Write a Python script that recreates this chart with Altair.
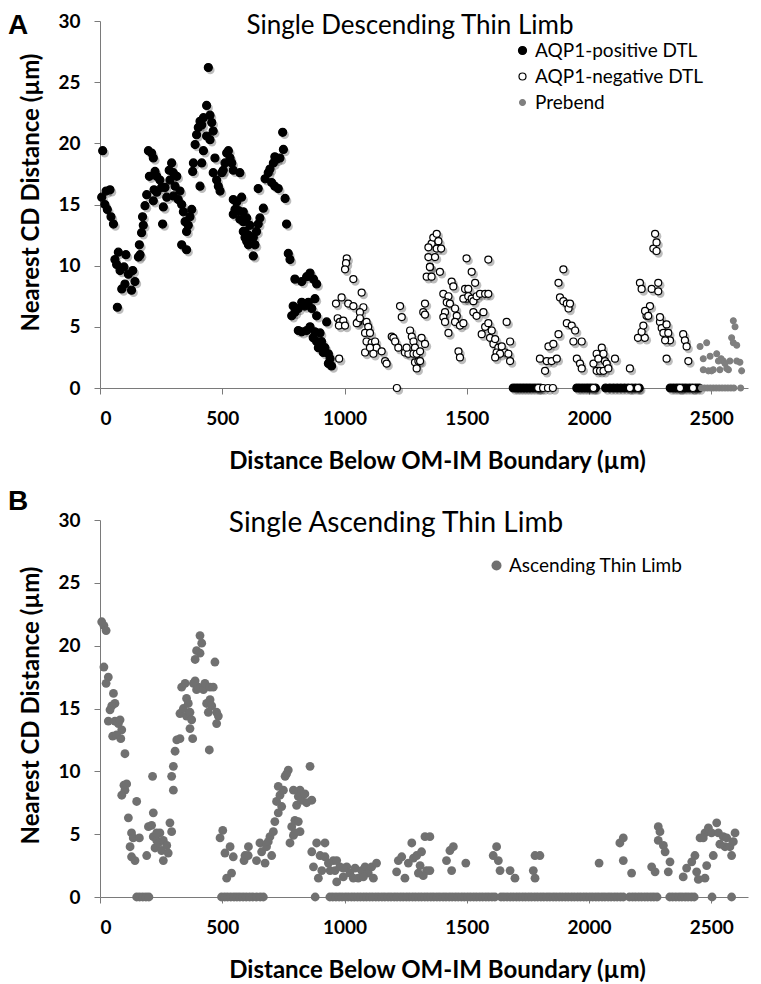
import altair as alt
import pandas as pd

# ---------------- Panel A data (distance µm, nearest CD distance µm) ----------------
A_POSITIVE = [
    (11, 19.4), (7, 15.6), (25, 16.1), (41, 16.2), (20, 15.0), (30, 14.6), (45, 14.0), (55, 13.4),
    (61, 10.5), (75, 11.1), (68, 10.1), (82, 9.6), (71, 6.6), (106, 10.9), (98, 9.9), (89, 8.1),
    (102, 8.5), (116, 9.3), (129, 8.0), (143, 8.7), (134, 9.6), (157, 10.7), (164, 10.9), (161, 11.7),
    (170, 12.7), (177, 13.3), (174, 14.0), (184, 14.9), (191, 15.8), (202, 17.3), (198, 19.4), (211, 19.2),
    (218, 18.8), (225, 17.7), (232, 17.3), (245, 17.0), (221, 16.2), (232, 16.0), (252, 16.4), (218, 15.3),
    (259, 14.8), (256, 13.4), (273, 15.6), (266, 16.4), (286, 17.0), (293, 18.4), (283, 17.8), (300, 17.6),
    (314, 17.3), (307, 16.5), (327, 16.1), (300, 15.7), (320, 15.4), (334, 15.0), (341, 14.4), (348, 13.6),
    (361, 13.3), (354, 12.8), (334, 11.7), (354, 11.3), (368, 14.0), (375, 14.6), (382, 18.4), (379, 17.7),
    (389, 19.9), (395, 20.7), (402, 21.3), (409, 21.8), (416, 21.5), (423, 22.1), (436, 23.1), (443, 26.2),
    (450, 22.3), (457, 21.7), (463, 21.0), (450, 20.3), (423, 19.4), (416, 18.4), (409, 16.5), (436, 20.6),
    (470, 18.8), (463, 17.6), (477, 17.0), (484, 16.5), (491, 16.1), (511, 18.4), (518, 19.2), (525, 19.4),
    (532, 18.8), (539, 18.4), (545, 17.8), (504, 17.8), (498, 17.6), (572, 17.6), (545, 15.4), (559, 15.2),
    (552, 14.6), (566, 14.5), (545, 14.2), (572, 13.8), (586, 13.6), (593, 12.8), (593, 12.3), (607, 12.5),
    (607, 11.7), (579, 15.6), (586, 14.4), (600, 13.9), (613, 13.3), (586, 12.8), (606, 12.3), (627, 12.3),
    (640, 12.8), (647, 13.4), (668, 14.7), (654, 13.9), (634, 11.7), (627, 10.8), (600, 12.0), (647, 16.3),
    (675, 17.1), (688, 17.6), (695, 17.9), (709, 18.4), (715, 18.9), (722, 18.7), (736, 18.8), (750, 19.5),
    (747, 20.9), (702, 16.8), (715, 16.5), (729, 16.3), (757, 15.5), (763, 13.4), (770, 11.0), (777, 10.5),
    (797, 8.9), (825, 8.7), (845, 9.1), (859, 9.4), (873, 8.9), (886, 8.5), (790, 6.7), (797, 6.2),
    (811, 6.5), (825, 7.0), (838, 6.7), (852, 7.0), (866, 6.5), (879, 7.3), (886, 5.9), (784, 5.9),
    (811, 4.7), (825, 4.6), (845, 4.7), (859, 5.0), (879, 4.6), (900, 4.5), (906, 3.8), (920, 3.3),
    (913, 2.9), (934, 2.8), (941, 2.4), (934, 2.0), (947, 1.8), (893, 3.3), (872, 4.1), (886, 3.8),
    (927, 5.4),
]
A_POSITIVE_ZERO_X = [1690, 1702, 1714, 1726, 1738, 1750, 1762, 1775, 1788, 1800,
                     1950, 1962, 1975, 1988, 2000, 2012, 2026,
                     2068, 2085, 2100, 2115, 2130, 2145, 2160, 2175, 2190, 2205,
                     2332, 2345, 2358, 2370, 2383, 2396, 2410, 2423, 2437, 2450]

A_NEGATIVE = [
    (978, 2.4), (965, 6.9), (988, 7.4), (1015, 6.9), (1036, 6.7), (1070, 7.8), (1077, 6.6), (1063, 6.2),
    (1009, 10.6), (1006, 10.2), (1002, 9.7), (1036, 8.9), (972, 5.7), (981, 5.4), (995, 5.5), (977, 5.1),
    (1002, 5.1), (1056, 5.4), (1050, 5.3), (1063, 5.7), (1090, 5.4), (1097, 5.0), (1084, 4.5), (1104, 4.5),
    (1090, 3.8), (1111, 3.7), (1125, 3.8), (1131, 3.3), (1084, 2.9), (1104, 3.3), (1118, 2.8), (1152, 3.0),
    (1166, 2.2), (1172, 2.0), (1193, 4.2), (1200, 4.1), (1207, 3.8), (1220, 3.3), (1227, 6.7), (1234, 5.8),
    (1247, 2.9), (1261, 2.8), (1254, 3.3), (1268, 4.7), (1275, 4.2), (1282, 3.8), (1288, 3.3), (1282, 2.8),
    (1295, 2.8), (1288, 2.1), (1302, 2.2), (1309, 3.0), (1315, 4.1), (1322, 6.2), (1329, 6.9), (1329, 6.0),
    (1336, 9.1), (1350, 9.9), (1343, 10.7), (1356, 11.8), (1363, 12.3), (1377, 12.6), (1377, 11.4), (1370, 10.7),
    (1343, 11.5), (1329, 3.6), (1309, 2.2), (1295, 1.6), (1384, 12.0), (1395, 11.4), (1349, 9.9), (1390, 9.5),
    (1356, 9.1), (1404, 7.7), (1425, 7.5), (1438, 8.7), (1445, 8.3), (1418, 7.0), (1431, 6.9), (1411, 6.2),
    (1404, 5.8), (1411, 5.4), (1425, 4.5), (1452, 6.5), (1459, 5.9), (1452, 5.4), (1472, 5.1), (1486, 5.3),
    (1493, 8.1), (1506, 8.1), (1499, 7.3), (1486, 7.3), (1506, 7.5), (1520, 7.3), (1527, 7.1), (1540, 7.5),
    (1554, 7.7), (1575, 7.7), (1588, 7.7), (1499, 10.6), (1520, 9.5), (1534, 8.6), (1588, 10.5), (1527, 6.2),
    (1540, 5.9), (1568, 6.2), (1561, 4.4), (1575, 5.0), (1588, 5.3), (1602, 4.7), (1595, 4.1), (1609, 3.6),
    (1616, 4.0), (1629, 3.3), (1622, 2.9), (1643, 3.4), (1657, 2.9), (1670, 2.8), (1677, 2.2), (1663, 5.4),
    (1677, 3.8), (1636, 2.8), (1616, 2.5), (1466, 3.0), (1472, 2.5),
    (1799, 2.4), (1820, 1.4), (1827, 2.2), (1847, 2.2), (1868, 2.4), (1834, 3.4), (1854, 3.6), (1875, 4.4),
    (1875, 8.6), (1895, 9.7), (1881, 7.4), (1895, 7.1), (1909, 6.9), (1916, 6.5), (1922, 6.9), (1909, 5.3),
    (1929, 5.1), (1943, 4.7), (1936, 3.8), (1970, 3.8), (1950, 2.4), (1963, 2.0), (1970, 1.6), (2018, 2.0),
    (2031, 2.8), (2038, 2.4), (2052, 3.3), (2059, 2.8), (2065, 2.2), (2072, 2.0), (2031, 1.4), (2045, 1.4),
    (2059, 1.4), (2079, 1.6), (2106, 2.4), (2167, 1.6),
    (2200, 4.1), (2228, 4.1), (2215, 4.6), (2222, 5.1), (2235, 5.9), (2249, 6.7), (2208, 8.6), (2215, 8.1),
    (2256, 8.1), (2270, 12.6), (2263, 11.4), (2276, 11.9), (2283, 8.6), (2229, 6.3), (2242, 5.9), (2290, 5.4),
    (2297, 4.9), (2317, 5.2), (2304, 4.5), (2324, 4.5), (2331, 3.9), (2311, 3.9), (2290, 5.8), (2317, 2.4),
    (2385, 4.4), (2392, 3.9), (2399, 3.4), (2406, 2.2), (2276, 11.2), (2283, 7.9),
]
A_NEGATIVE_ZERO_X = [1214, 1792, 1812, 1832, 1852, 2018, 2167, 2200, 2372, 2425]

A_PREBEND = [
    (2454, 3.4), (2481, 3.7), (2467, 2.4), (2467, 1.5), (2488, 1.4), (2508, 1.5), (2522, 2.8), (2529, 2.2),
    (2549, 2.2), (2563, 1.6), (2576, 2.2), (2590, 5.5), (2597, 5.0), (2583, 4.1), (2590, 3.7), (2570, 1.5),
    (2617, 2.1), (2624, 1.4), (2535, 1.5), (2501, 1.4), (2495, 2.6), (2540, 2.4), (2556, 2.0), (2604, 3.5),
    (2604, 2.2),
]
A_PREBEND_ZERO_X = [2460, 2472, 2484, 2496, 2508, 2520, 2532, 2544, 2556, 2568, 2580, 2592, 2620]

# ---------------- Panel B data ----------------
B_ASCENDING = [
    (7, 21.9), (16, 21.6), (25, 21.2), (16, 18.3), (34, 17.5), (25, 17.0), (55, 16.2), (61, 15.4),
    (48, 15.2), (41, 14.9), (34, 14.0), (61, 14.0), (75, 13.8), (82, 14.1), (89, 13.3), (52, 12.8),
    (68, 12.9), (85, 12.6), (102, 11.4), (98, 8.9), (109, 9.0), (102, 8.5), (89, 8.1), (116, 6.3),
    (129, 5.1), (136, 4.7), (161, 4.7), (150, 7.6), (123, 4.0), (129, 3.2), (143, 2.9), (191, 3.3),
    (198, 5.6), (211, 5.7), (218, 6.7), (215, 9.6), (218, 4.8), (232, 4.5), (225, 3.9), (239, 4.3),
    (245, 5.1), (232, 5.1), (259, 4.5), (252, 3.7), (259, 2.9), (273, 4.1), (279, 3.5), (286, 5.9),
    (293, 5.2), (300, 8.5), (293, 9.6), (300, 10.4), (307, 11.6), (314, 12.5), (327, 12.6), (327, 14.6),
    (341, 15.0), (334, 16.7), (348, 17.0), (354, 15.8), (361, 15.4), (354, 14.4), (368, 14.7), (375, 14.1),
    (368, 13.4), (379, 12.6), (382, 17.0), (395, 16.5), (402, 16.7), (389, 17.2), (389, 18.9), (395, 19.6),
    (409, 20.8), (416, 20.2), (409, 19.4), (423, 16.5), (429, 17.0), (450, 16.7), (463, 16.7), (436, 15.4),
    (450, 15.7), (457, 15.2), (443, 14.7), (470, 18.7), (477, 14.7), (484, 14.4), (477, 13.8), (447, 11.7),
    (491, 4.7), (502, 5.3), (511, 3.5), (532, 4.0), (545, 3.2), (518, 1.5), (538, 1.9), (593, 3.3),
    (607, 4.0), (589, 2.9), (606, 3.3), (640, 2.9), (661, 3.6), (654, 4.3), (675, 2.7), (681, 4.0),
    (695, 4.8), (688, 4.4), (709, 5.2), (702, 3.3), (715, 6.0), (729, 6.7), (743, 7.2), (722, 7.6),
    (736, 8.1), (750, 8.5), (729, 8.8), (757, 9.6), (770, 10.1), (763, 9.8), (784, 5.6), (791, 4.9),
    (777, 4.3), (797, 6.1), (804, 7.3), (811, 8.0), (818, 8.5), (791, 8.5), (825, 7.7), (838, 8.2),
    (845, 7.5), (866, 7.7), (811, 6.0), (818, 5.2), (797, 5.1), (859, 10.4),
    (866, 3.6), (873, 2.4), (886, 4.3), (900, 3.3), (907, 2.1), (893, 1.5), (920, 4.3), (920, 3.2),
    (934, 2.7), (941, 2.1), (954, 2.9), (961, 2.1), (968, 1.2), (981, 2.4), (995, 1.6), (1009, 2.4),
    (1022, 1.9), (1043, 2.3), (1056, 1.5), (1070, 2.1), (1084, 2.4), (1097, 1.9), (1111, 2.4), (1131, 2.7),
    (1118, 1.5), (1077, 1.6), (1036, 1.5), (995, 2.3), (968, 2.9),
    (1213, 2.0), (1220, 2.9), (1234, 3.2), (1247, 1.5), (1261, 2.7), (1275, 4.3), (1282, 3.1), (1295, 3.3),
    (1309, 2.5), (1315, 3.6), (1329, 4.8), (1336, 2.1), (1322, 1.7), (1302, 1.9),
    (1349, 4.8), (1349, 2.1), (1417, 2.9), (1431, 3.7), (1445, 4.0), (1438, 2.1), (1496, 2.7), (1608, 3.3),
    (1622, 4.0), (1629, 2.9), (1636, 2.1), (1677, 2.1), (1697, 1.5), (1772, 2.1), (1779, 1.5), (1779, 3.3),
    (1799, 3.3),
    (2041, 2.7), (2126, 4.3), (2140, 4.7), (2140, 2.9), (2174, 1.9), (2256, 2.4), (2270, 2.0), (2283, 5.6),
    (2290, 5.2), (2283, 4.5), (2304, 4.1), (2311, 3.6), (2331, 2.8), (2324, 2.0), (2385, 1.6), (2399, 2.3),
    (2420, 2.8), (2433, 3.3), (2440, 2.0), (2447, 1.4), (2474, 1.5), (2481, 2.5), (2454, 4.7), (2474, 5.1),
    (2488, 5.5), (2501, 5.1), (2522, 5.9), (2529, 5.1), (2549, 4.8), (2556, 4.0), (2576, 4.0), (2590, 4.4),
    (2597, 5.1), (2583, 3.3), (2508, 3.3), (2535, 4.2), (2563, 4.7), (2467, 4.7),
]
B_ZERO_X = [150, 162, 175, 188, 200,
            497, 510, 522, 535, 548, 560, 572, 585, 598, 612, 625, 640, 655, 668,
            880,
            940, 952, 965, 978, 990, 1003, 1015, 1028, 1040, 1053, 1065, 1078, 1090, 1103, 1115,
            1128, 1140, 1153, 1165, 1178, 1190, 1203, 1215, 1228, 1240, 1253, 1265, 1278, 1290,
            1303, 1315, 1328, 1340, 1353, 1365, 1378, 1390, 1403, 1415, 1428, 1440, 1453, 1465,
            1478, 1490, 1503, 1515, 1528, 1540, 1553, 1565, 1578, 1590, 1603, 1615,
            1640, 1652, 1665, 1678, 1690, 1703, 1715, 1728, 1740, 1753, 1765, 1778, 1790, 1803,
            1815, 1828, 1840, 1853, 1865, 1878, 1890, 1903, 1915, 1928, 1940, 1953, 1965, 1978,
            1990, 2003, 2015, 2028, 2040, 2053, 2065, 2078, 2090, 2103, 2115, 2128, 2140,
            2165, 2178, 2190, 2203, 2215, 2228, 2240, 2253, 2265, 2278,
            2330, 2342, 2355, 2368, 2380, 2393, 2405, 2418, 2430,
            2503, 2583]

SERIES_A = ["AQP1-positive DTL", "AQP1-negative DTL", "Prebend"]
SERIES_B = ["Ascending Thin Limb"]
X_TICKS = [0, 500, 1000, 1500, 2000, 2500]
Y_TICKS = [0, 5, 10, 15, 20, 25, 30]


def rows(pairs, zeros, name):
    out = [{"x": x, "y": y, "series": name} for x, y in pairs]
    out += [{"x": x, "y": 0.0, "series": name} for x in zeros]
    return out


dfA = pd.DataFrame(
    rows(A_POSITIVE, A_POSITIVE_ZERO_X, SERIES_A[0])
    + rows(A_NEGATIVE, A_NEGATIVE_ZERO_X, SERIES_A[1])
    + rows(A_PREBEND, A_PREBEND_ZERO_X, SERIES_A[2])
)
dfA_shadow = dfA[dfA["series"] != SERIES_A[2]]
dfB = pd.DataFrame(rows(B_ASCENDING, B_ZERO_X, SERIES_B[0]))

FONT = "Lato"
AXIS_GREY = "#7a7a7a"
W = 648              # plot width
PH_A = 367           # panel A plot height (top kept clear of the page edge)
B_TOP = 499          # panel B plot top, measured from panel A plot top
PH_B = 377           # panel B plot height
TOTAL_H = B_TOP + PH_B

xscale = alt.Scale(domain=[0, 2650], nice=False, zero=False)
yscaleA = alt.Scale(domain=[0, 30], nice=False, zero=False, range=[PH_A, 0])
yscaleB = alt.Scale(domain=[0, 30], nice=False, zero=False, range=[TOTAL_H, B_TOP])


def x_axis(offset):
    return alt.Axis(values=X_TICKS, format="d", title="Distance Below OM-IM Boundary (µm)", grid=False,
                    orient="bottom", offset=offset,
                    titleX=337, titleY=80, titleAlign="center", titleBaseline="alphabetic",
                    labelPadding=15, tickSize=6)


def y_axis(title_y):
    return alt.Axis(values=Y_TICKS, title="Nearest CD Distance (µm)", grid=False, orient="left",
                    titleX=-69, titleY=title_y, titleAngle=270, titleAlign="center",
                    titleBaseline="middle", labelPadding=14, tickSize=6)


def legend(lx, ly):
    return alt.Legend(orient="none", legendX=lx, legendY=ly, title=None, labelFont=FONT,
                      labelFontSize=19, labelColor="black", symbolType="circle", labelLimit=400,
                      rowPadding=6, labelOffset=3, padding=0, symbolStrokeWidth=1.2)


def label_text(txt, x, y, size, font, weight):
    return alt.Chart(pd.DataFrame({"t": [txt]})).mark_text(
        font=font, fontSize=size, fontWeight=weight, align="center", baseline="alphabetic",
        color="black"
    ).encode(text="t:N", x=alt.value(x), y=alt.value(y))


# ---------------- Panel A ----------------
xA = alt.X("x:Q", scale=xscale, axis=x_axis(-(TOTAL_H - PH_A)))
yA = alt.Y("y:Q", scale=yscaleA, axis=y_axis(171))

shadowA = alt.Chart(dfA_shadow).mark_circle(
    color="#000000", opacity=0.26, size=72, xOffset=2, yOffset=2.5
).encode(x=xA, y=yA)

pointsA = alt.Chart(dfA).mark_point(filled=True, opacity=1, strokeWidth=1.2, shape="circle").encode(
    x=xA,
    y=yA,
    fill=alt.Fill("series:N", scale=alt.Scale(domain=SERIES_A, range=["#000000", "#ffffff", "#7f7f7f"]),
                  legend=legend(413, 20)),
    stroke=alt.Stroke("series:N", scale=alt.Scale(domain=SERIES_A, range=["#000000", "#000000", "#7f7f7f"]),
                      legend=legend(413, 20)),
    size=alt.Size("series:N", scale=alt.Scale(domain=SERIES_A, range=[64, 34, 64]),
                  legend=legend(413, 20)),
)

layerA = alt.layer(shadowA, pointsA)

# ---------------- Panel B ----------------
pointsB = alt.Chart(dfB).mark_point(filled=True, opacity=1, size=78, shape="circle").encode(
    x=alt.X("x:Q", scale=xscale, axis=x_axis(0)),
    y=alt.Y("y:Q", scale=yscaleB, axis=y_axis(B_TOP + 185)),
    fill=alt.Fill("series:N", scale=alt.Scale(domain=SERIES_B, range=["#707070"]),
                  legend=legend(387, B_TOP + 36)),
)

chart = alt.layer(
    layerA,
    pointsB,
    label_text("A", -82, 13, 28, "Liberation Sans", "bold"),
    label_text("Single Descending Thin Limb", 310, 13, 26, FONT, "normal"),
    label_text("B", -82, B_TOP - 10, 28, "Liberation Sans", "bold"),
    label_text("Single Ascending Thin Limb", 296, B_TOP + 12, 28, FONT, "normal"),
).resolve_scale(
    x="independent", y="independent", fill="independent", stroke="independent", size="independent"
).resolve_legend(
    fill="independent", stroke="independent", size="independent"
).properties(
    width=W, height=TOTAL_H,
    autosize=alt.AutoSizeParams(type="none"),
    padding={"left": 92, "top": 13, "right": 5, "bottom": 85},
).configure_view(
    stroke=None
).configure_axis(
    domainColor=AXIS_GREY, tickColor=AXIS_GREY, domainWidth=1, tickWidth=1,
    labelFont=FONT, labelFontWeight="bold", labelFontSize=19, labelColor="black",
    titleFont=FONT, titleFontWeight="bold", titleFontSize=24, titleColor="black",
)

chart.save("out.html", embed_options={"renderer": "svg", "actions": False})
